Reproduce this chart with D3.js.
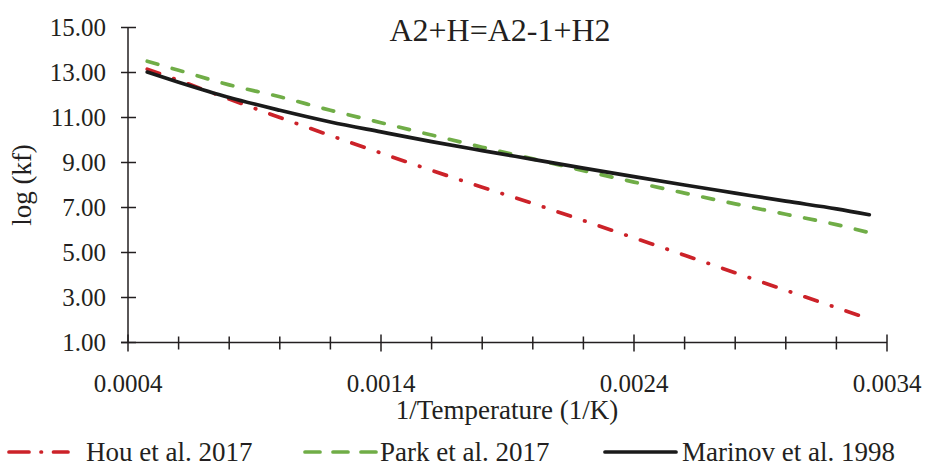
<!DOCTYPE html>
<meta charset="utf-8">
<style>
body { margin: 0; background: #fff; }
svg { font-family: 'Liberation Serif', 'Times New Roman', serif; }
.tick-label { font-size: 25px; fill: #231f20; }
.title { font-size: 32px; fill: #231f20; }
.axis-title { font-size: 27px; fill: #231f20; }
.legend { font-size: 27px; fill: #231f20; }
</style>
<body>
<div id="chart"></div>
<script src="https://cdn.jsdelivr.net/npm/d3@7/dist/d3.min.js"></script>
<script>
// 1/T values along the x axis
var invT = [0.000476, 0.0006, 0.0008, 0.001, 0.0012, 0.0014, 0.0016, 0.0018,
            0.002, 0.0022, 0.0024, 0.0026, 0.0028, 0.003, 0.0032, 0.00333];
var hou     = [13.15, 12.65, 11.82, 11.0, 10.2, 9.42, 8.65, 7.9,
               7.18, 6.42, 5.65, 4.88, 4.1, 3.32, 2.55, 2.05];
var park    = [13.5, 13.1, 12.45, 11.92, 11.32, 10.77, 10.22, 9.68,
               9.16, 8.64, 8.13, 7.64, 7.16, 6.7, 6.24, 5.88];
var marinov = [13.02, 12.57, 11.89, 11.32, 10.8, 10.36, 9.93, 9.53,
               9.14, 8.75, 8.37, 8.0, 7.64, 7.28, 6.94, 6.68];
var yTicks = [1, 3, 5, 7, 9, 11, 13, 15];
var xMajor = [0.0004, 0.0014, 0.0024, 0.0034];
var seriesNames = ['Hou et al. 2017', 'Park et al. 2017', 'Marinov et al. 1998'];

var W = 927, H = 466;
var svg = d3.select('#chart').append('svg')
    .attr('width', W).attr('height', H);

var x = d3.scaleLinear().domain([0.0004, 0.0034]).range([128, 887]);
var y = d3.scaleLinear().domain([1, 15]).range([342.5, 27.5]);

var ink = '#231f20';

// axes
svg.append('line').attr('x1', x(0.0004)).attr('x2', x(0.0004))
   .attr('y1', y(15)).attr('y2', y(1)).attr('stroke', ink).attr('stroke-width', 1.5);
svg.append('line').attr('x1', x(0.0004) - 7).attr('x2', x(0.0034))
   .attr('y1', y(1)).attr('y2', y(1)).attr('stroke', ink).attr('stroke-width', 1.5);

yTicks.forEach(function(v) {
  svg.append('line').attr('x1', x(0.0004) - 7).attr('x2', x(0.0004) + 8)
     .attr('y1', y(v)).attr('y2', y(v)).attr('stroke', ink).attr('stroke-width', 1.5);
  svg.append('text').attr('class', 'tick-label')
     .attr('x', 106).attr('y', y(v)).attr('dy', '0.35em')
     .attr('text-anchor', 'end').text(d3.format('.2f')(v));
});

var minor = d3.range(0, 16).map(function(i) { return 0.0004 + i * 0.0002; });
minor.forEach(function(v) {
  var isMajor = xMajor.some(function(m) { return Math.abs(m - v) < 1e-9; });
  svg.append('line').attr('x1', x(v)).attr('x2', x(v))
     .attr('y1', y(1) - (isMajor ? 8 : 6)).attr('y2', y(1) + (isMajor ? 9 : 7))
     .attr('stroke', ink).attr('stroke-width', 1.5);
});
xMajor.forEach(function(v) {
  svg.append('text').attr('class', 'tick-label')
     .attr('x', x(v)).attr('y', 392)
     .attr('text-anchor', 'middle').text(d3.format('.4f')(v));
});

// axis titles
svg.append('text').attr('class', 'axis-title')
   .attr('transform', 'translate(31,' + y(8) + ') rotate(-90)')
   .attr('text-anchor', 'middle').text('log (kf)');
svg.append('text').attr('class', 'axis-title')
   .attr('x', 507).attr('y', 419).attr('text-anchor', 'middle')
   .text('1/Temperature (1/K)');
svg.append('text').attr('class', 'title')
   .attr('x', 500).attr('y', 41).attr('text-anchor', 'middle')
   .text('A2+H=A2-1+H2');

// series
var styles = [
  { data: hou, color: '#cc2229', dash: '13,15,0.5,15', legDash: '20,12,0.5,12,20' },
  { data: park, color: '#70ad47', dash: '11,15', legDash: '15,13' },
  { data: marinov, color: '#1a1a1a', dash: null, legDash: null }
];
var line = d3.line()
  .x(function(d, i) { return x(invT[i]); })
  .y(function(d) { return y(d); })
  .curve(d3.curveMonotoneX);

styles.forEach(function(s) {
  svg.append('path').datum(s.data)
     .attr('d', line)
     .attr('fill', 'none')
     .attr('stroke', s.color)
     .attr('stroke-width', 3.7)
     .attr('stroke-linecap', 'round')
     .attr('stroke-dasharray', s.dash);
});

// legend
var legLine = [[9, 68], [305, 376], [605, 676]];
var legText = [86, 380, 682];
styles.forEach(function(s, i) {
  svg.append('line').attr('x1', legLine[i][0]).attr('x2', legLine[i][1])
     .attr('y1', 452).attr('y2', 452)
     .attr('stroke', s.color).attr('stroke-width', 3.7)
     .attr('stroke-linecap', 'round')
     .attr('stroke-dasharray', s.legDash);
  svg.append('text').attr('class', 'legend')
     .attr('x', legText[i]).attr('y', 452).attr('dy', '0.35em')
     .text(seriesNames[i]);
});
</script>
</body>
